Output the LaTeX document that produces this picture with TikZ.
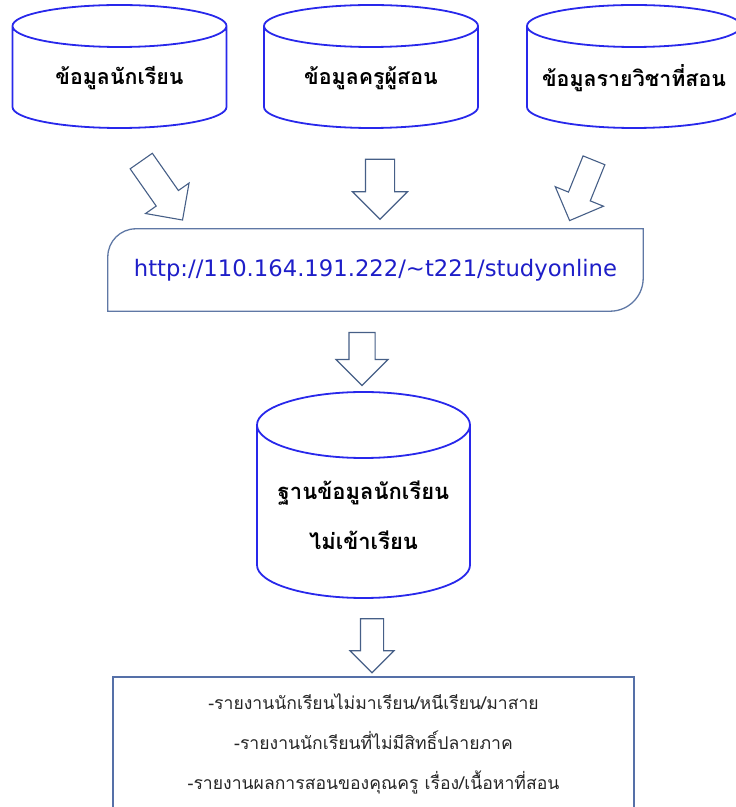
\documentclass[tikz,border=0pt]{standalone}
\usepackage{fontspec}
\setmainfont[Script=Thai]{Loma}
\newfontfamily\urlfont{DejaVu Sans}
\usetikzlibrary{shapes.arrows}

\definecolor{azulcil}{RGB}{40,40,235}
\definecolor{azulseta}{RGB}{70,95,135}
\definecolor{azulcaixa}{RGB}{95,120,165}
\definecolor{azulurl}{RGB}{30,30,200}
\definecolor{azulrel}{RGB}{85,112,168}

\tikzset{
  seta/.style={single arrow, draw=azulseta, fill=white, line width=1.1pt,
    single arrow head indent=0pt, inner xsep=0pt, inner ysep=13pt,
    single arrow head extend=13pt, minimum width=52pt},
  cilindro/.style={draw=azulcil, line width=1.8pt},
  rotulo/.style={font=\fontsize{21.4}{25}\selectfont\bfseries, text=black},
}

\begin{document}
\begin{tikzpicture}[x=1pt, y=1pt]

\useasboundingbox (0,0) rectangle (736,807);

% Bases de dados de entrada
\node[rotulo] (alunos) at (119.5,729) {ข้อมูลนักเรียน};
\node[rotulo] (professores) at (371,729) {ข้อมูลครูผู้สอน};
\node[rotulo] (disciplinas) at (634,729) {ข้อมูลรายวิชาที่สอน};

\foreach \n in {alunos,professores,disciplinas} {
  \draw[cilindro, shift={(\n.center)}] (-107,52)
    arc[start angle=180, end angle=360, x radius=107, y radius=21]
    arc[start angle=0, end angle=180, x radius=107, y radius=21]
    -- (-107,-29)
    arc[start angle=180, end angle=360, x radius=107, y radius=21]
    -- (107,52);
}

% Setas para o site
\node[seta, rotate=-55, minimum height=72pt] (seta1) at (158,622) {};
\node[seta, rotate=-90, minimum height=60pt, minimum width=55pt, inner ysep=14pt] (seta2) at (380,625) {};
\node[seta, rotate=-112, minimum height=65pt, inner ysep=11pt, single arrow head extend=14pt] (seta3) at (584,622) {};

% Site
\node[inner sep=0pt, minimum width=535pt, minimum height=82pt, text=azulurl,
  font=\urlfont\fontsize{22.7}{26}\selectfont] (site) at (375.5,537)
  {http://110.164.191.222/\textasciitilde t221/studyonline};
\draw[draw=azulcaixa, line width=1.3pt] (site.south west)
  -- ([yshift=-28pt]site.north west) arc[start angle=180, end angle=90, radius=28pt]
  -- (site.north east)
  -- ([yshift=33pt]site.south east) arc[start angle=0, end angle=-90, radius=33pt]
  -- cycle;

\node[seta, rotate=-90, minimum height=53pt, minimum width=51pt, inner ysep=12.5pt] (seta4) at (362,454.5) {};

% Banco de dados
\node[rotulo, align=center, font=\fontsize{22}{50}\selectfont\bfseries] (banco) at (363.5,292)
  {ฐานข้อมูลนักเรียน\\ไม่เข้าเรียน};
\draw[cilindro, shift={(banco.center)}] (-106.5,90)
  arc[start angle=180, end angle=360, x radius=106.5, y radius=33]
  arc[start angle=0, end angle=180, x radius=106.5, y radius=33]
  -- (-106.5,-50)
  arc[start angle=180, end angle=360, x radius=106.5, y radius=33]
  -- (106.5,90);

\node[seta, rotate=-90, minimum height=54pt, minimum width=43pt, inner ysep=11pt,
  single arrow head extend=10.5pt] (seta5) at (372,167) {};

% Relatorios
\node[draw=azulrel, line width=2.2pt, minimum width=521pt, minimum height=133pt,
  align=center, text=black!85, font=\fontsize{17.6}{40}\selectfont] (relatorio) at (373.5,63.5)
  {-รายงานนักเรียนไม่มาเรียน/หนีเรียน/มาสาย\\
   -รายงานนักเรียนที่ไม่มีสิทธิ์ปลายภาค\\
   -รายงานผลการสอนของคุณครู เรื่อง/เนื้อหาที่สอน};

\end{tikzpicture}
\end{document}
